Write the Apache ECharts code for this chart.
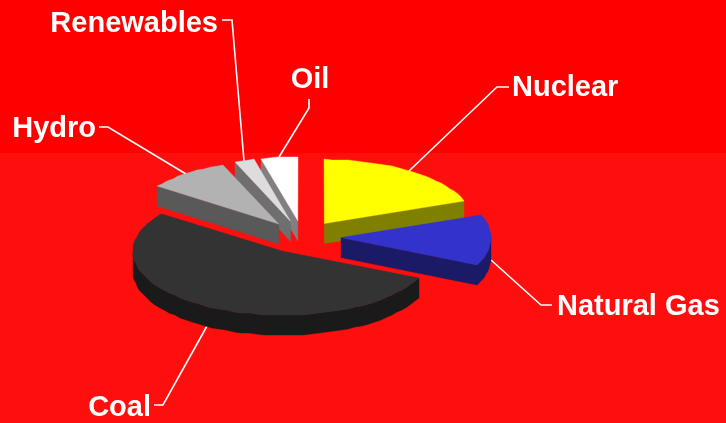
<!DOCTYPE html>
<html>
<head>
<meta charset="utf-8">
<style>html,body{margin:0;padding:0;background:#ff0000}#c{width:726px;height:423px}</style>
<script src="https://cdn.jsdelivr.net/npm/echarts@6/dist/echarts.min.js"></script>
</head>
<body>
<div id="c"></div>
<script>
const categories = ['Nuclear', 'Natural Gas', 'Coal', 'Hydro', 'Renewables', 'Oil'];
const shares = [19.2, 12.8, 53.0, 8.9, 2.2, 3.9];
const topColors = ['#ffff00', '#3333cc', '#333333', '#b2b2b2', '#dddddd', '#ffffff'];
const wallColors = ['#808000', '#1a1a66', '#1a1a1a', '#595959', '#6f6f6f', '#808080'];

const pie = { cx: 302.5, cy: 237, rx: 150, ry: 64, depth: 20, explode: 38.5, step: 3 };
// label anchor, elbow x/y and text alignment for each category
const labelLayout = {
  'Nuclear':     { elbow: [497, 87],  end: [509, 87],  text: [512, 88],  align: 'left' },
  'Natural Gas': { elbow: [541, 305], end: [552, 305], text: [557, 307], align: 'left' },
  'Coal':        { elbow: [163, 405], end: [154, 405], text: [151, 408], align: 'right' },
  'Hydro':       { elbow: [108, 127], end: [99, 127],  text: [96, 129],  align: 'right' },
  'Renewables':  { elbow: [232, 20],  end: [222, 20],  text: [218, 24],  align: 'right' },
  'Oil':         { elbow: [309, 108], end: [309, 99],  text: [310, 80],  align: 'center' }
};

const total = shares.reduce((a, b) => a + b, 0);
const spans = [];
let running = 0;
shares.forEach(v => {
  const a0 = running / total * 2 * Math.PI;
  running += v;
  spans.push([a0, running / total * 2 * Math.PI]);
});

function renderSlice(params, api) {
  const i = params.dataIndex;
  const [a0, a1] = spans[i];
  const bis = (a0 + a1) / 2;
  const ox = pie.cx + pie.explode * Math.sin(bis);
  const oy = pie.cy - pie.explode * (pie.ry / pie.rx) * Math.cos(bis);
  const rim = a => [Math.round(ox + pie.rx * Math.sin(a)), Math.round(oy - pie.ry * Math.cos(a))];
  const down = p => [p[0], p[1] + pie.depth];

  const stepRad = pie.step * Math.PI / 180;
  const arc = [];
  for (let a = a0; a < a1; a += stepRad) arc.push(a);
  arc.push(a1);

  const apex = [ox, oy];
  const z = 200 + Math.round(-Math.cos(bis) * 100);
  const children = [];
  const poly = (points, fill, dz) => children.push({
    type: 'polygon',
    shape: { points },
    style: { fill, stroke: fill, lineWidth: 0.4 },
    z2: z + dz,
    silent: true
  });

  // radial walls that face the viewer
  if (Math.cos(a0 - Math.PI / 2) < 0) {
    const r = rim(a0);
    poly([apex, r, down(r), down(apex)], wallColors[i], 0);
  }
  if (Math.cos(a1 + Math.PI / 2) < 0) {
    const r = rim(a1);
    poly([apex, r, down(r), down(apex)], wallColors[i], 0);
  }
  // outer wall: the part of the rim on the front half
  const front = arc.filter(a => Math.cos(a) <= 0.02);
  if (front.length > 1) {
    const ring = front.map(rim);
    poly(ring.concat(ring.map(down).reverse()), wallColors[i], 1);
  }
  // top face
  poly([apex].concat(arc.map(rim)), topColors[i], 2);

  // leader line and label
  const name = categories[i];
  const lay = labelLayout[name];
  let anchor = rim(bis);
  if (Math.cos(bis) < 0) anchor = down(anchor);
  children.push({
    type: 'polyline',
    shape: { points: [anchor, lay.elbow, lay.end] },
    style: { stroke: '#ffffff', lineWidth: 1.6, fill: null },
    z2: 100,
    silent: true
  });
  children.push({
    type: 'text',
    style: {
      text: name,
      x: lay.text[0],
      y: lay.text[1],
      fill: '#ffffff',
      font: 'bold 29px "Liberation Sans", Arial, sans-serif',
      align: lay.align,
      verticalAlign: 'middle'
    },
    z2: 600,
    silent: true
  });
  return { type: 'group', children };
}

const chart = echarts.init(document.getElementById('c'), null, { renderer: 'canvas' });
chart.setOption({
  animation: false,
  backgroundColor: '#ff0000',
  graphic: [{
    type: 'rect',
    shape: { x: 0, y: 153, width: 726, height: 270 },
    style: { fill: '#ff0e0e' },
    z: -1,
    silent: true
  }],
  series: [{
    type: 'custom',
    coordinateSystem: 'none',
    renderItem: renderSlice,
    data: categories.map((name, i) => ({ name, value: [shares[i]] })),
    clip: false
  }]
});
</script>
</body>
</html>
